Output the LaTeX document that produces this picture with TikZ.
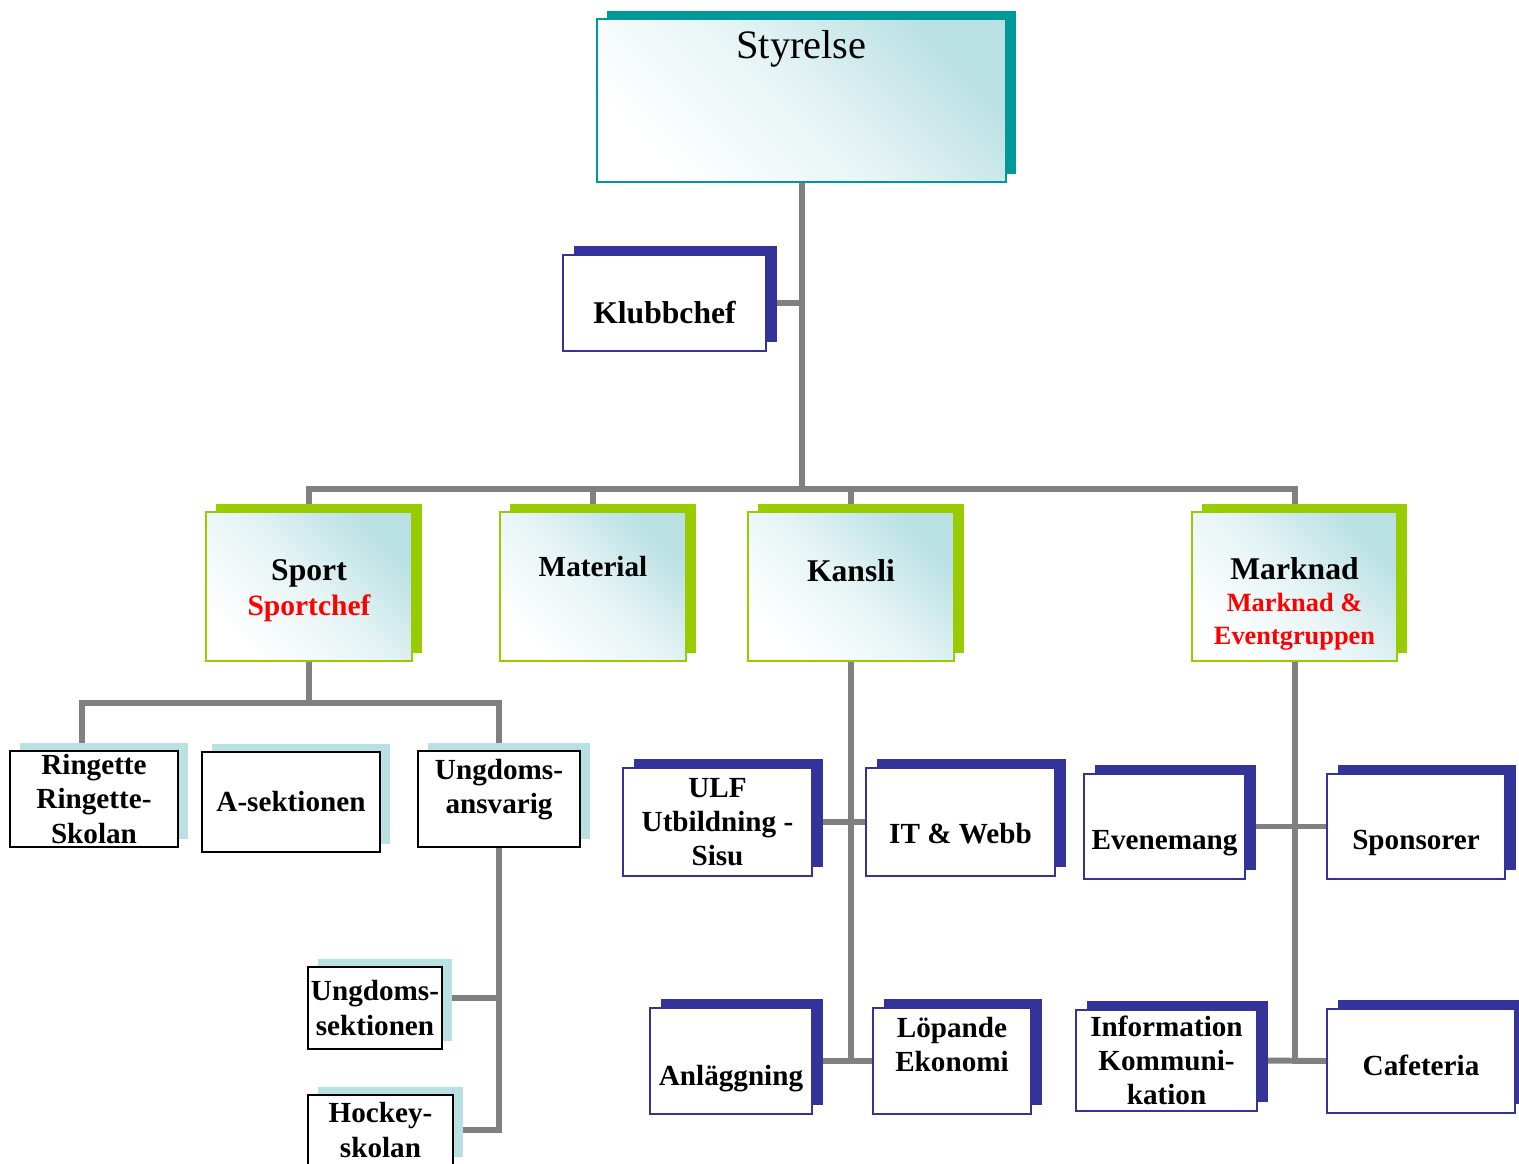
\documentclass[tikz,border=0pt]{standalone}
\usepackage{fontspec}
\setmainfont{Liberation Serif}
\usetikzlibrary{shadows,backgrounds}
\definecolor{boardteal}{HTML}{009999}
\definecolor{areagreen}{HTML}{99CC00}
\definecolor{unitblue}{HTML}{333399}
\definecolor{pale}{HTML}{B9E0E3}
\definecolor{lineg}{HTML}{808080}
\newcommand\chfont{\fontsize{8.3}{9.7}\selectfont\bfseries}
\newcommand\hdfont{\fontsize{9}{10}\selectfont\bfseries}
\tikzset{
    card/.style={draw, rectangle, inner sep=0pt, align=center},
    tint/.style={top color=pale, bottom color=white, middle color=pale!35, shading angle=-45},
    board/.style={card, tint, draw=boardteal, line width=0.6pt,
        general shadow={fill=boardteal, shadow xshift=1mm, shadow yshift=0.8mm}},
    area/.style={card, tint, draw=areagreen, line width=0.6pt, font=\hdfont,
        general shadow={fill=areagreen, shadow xshift=1mm, shadow yshift=0.8mm}},
    unit/.style={card, fill=white, draw=unitblue, line width=0.5pt, font=\chfont,
        general shadow={fill=unitblue, shadow xshift=1.1mm, shadow yshift=0.9mm}},
    team/.style={card, fill=white, draw=black, line width=0.7pt, font=\chfont,
        general shadow={fill=pale, shadow xshift=1mm, shadow yshift=0.8mm}},
    lift/.style={text depth=#1},
    sink/.style={text height=#1},
    link/.style={draw=lineg, line width=1.7pt}
}
\begin{document}
\begin{tikzpicture}
\useasboundingbox (0,0) rectangle (15.19,-11.64);
\coordinate (bar) at (0,-4.89);
\coordinate (sbar) at (0,-7.03);

% top
\node[board, lift=1.12cm, minimum width=4.09cm, minimum height=1.63cm,
      font=\fontsize{11.5}{13}\selectfont] (sty) at (8.015,-1.005) {Styrelse};
\node[unit, font=\hdfont, sink=0.42cm, minimum width=2.03cm, minimum height=0.96cm] (klubb) at (6.645,-3.03) {Klubbchef};

% areas
\node[area, sink=0.65cm, minimum width=2.06cm, minimum height=1.49cm] (sport) at (3.09,-5.865)
    {Sport\\\textcolor{red}{\fontsize{8.4}{10}\selectfont Sportchef}};
\node[area, font=\chfont, lift=0.4cm, minimum width=1.86cm, minimum height=1.49cm] (mat) at (5.93,-5.865) {Material};
\node[area, lift=0.32cm, minimum width=2.06cm, minimum height=1.49cm] (kans) at (8.51,-5.865) {Kansli};
\node[area, font=\fontsize{7.5}{9.2}\selectfont\bfseries, sink=1.21cm, minimum width=2.05cm, minimum height=1.49cm] (mark) at (12.945,-5.865)
    {{\hdfont Marknad}\\\textcolor{red}{Marknad \&}\\\textcolor{red}{Eventgruppen}};

% sport
\node[team, minimum width=1.68cm, minimum height=0.96cm] (ring) at (0.94,-7.99) {Ringette\\Ringette-\\Skolan};
\node[team, minimum width=1.78cm, minimum height=1.0cm] (asek) at (2.91,-8.02) {A-sektionen};
\node[team, lift=0.25cm, minimum width=1.62cm, minimum height=0.96cm] (ungans) at (4.99,-7.99) {Ungdoms-\\ansvarig};
\node[team, minimum width=1.34cm, minimum height=0.82cm] (ungsek) at (3.75,-10.08) {Ungdoms-\\sektionen};
\node[team, minimum width=1.45cm, minimum height=0.70cm] (hockey) at (3.805,-11.30) {Hockey-\\skolan};

% kansli
\node[unit, minimum width=1.89cm, minimum height=1.08cm] (ulf) at (7.175,-8.22) {ULF\\Utbildning -\\Sisu};
\node[unit, sink=0.44cm, minimum width=1.89cm, minimum height=1.08cm] (it) at (9.605,-8.22) {IT \& Webb};
\node[unit, sink=0.56cm, minimum width=1.62cm, minimum height=1.06cm] (anl) at (7.31,-10.61) {Anläggning};
\node[unit, lift=0.34cm, minimum width=1.58cm, minimum height=1.06cm] (loep) at (9.52,-10.61) {Löpande\\Ekonomi};

% marknad
\node[unit, sink=0.52cm, minimum width=1.61cm, minimum height=1.05cm] (even) at (11.645,-8.265) {Evenemang};
\node[unit, sink=0.52cm, minimum width=1.78cm, minimum height=1.05cm] (spons) at (14.16,-8.265) {Sponsorer};
\node[unit, minimum width=1.81cm, minimum height=1.01cm] (info) at (11.665,-10.605) {Information\\Kommuni-\\kation};
\node[unit, sink=0.3cm, minimum width=1.88cm, minimum height=1.04cm] (caf) at (14.21,-10.61) {Cafeteria};

% lines
\begin{pgfonlayer}{background}
\draw[link] (sty.south) -- (sty.south |- bar);
\draw[link] (klubb.east) -- (klubb.east -| sty.south);
\draw[link] (sport.north) |- (mark.north |- bar) -- (mark.north);
\draw[link] (mat.north) -- (mat.north |- bar);
\draw[link] (kans.north) -- (kans.north |- bar);
\draw[link] (sport.south) -- (sport.south |- sbar);
\draw[link] ([xshift=-1.2mm]ring.north) |- (ungans.north |- sbar) -- (ungans.north);
\draw[link] (ungans.south) |- (hockey.east);
\draw[link] ([yshift=1mm]ungsek.east) -- ([yshift=1mm]ungsek.east -| ungans.south);
\draw[link] (kans.south) -- (kans.south |- anl.east);
\draw[link] (ulf.east) -- (it.west);
\draw[link] (anl.east) -- (loep.west);
\draw[link] (mark.south) -- (mark.south |- info.east);
\draw[link] (even.east) -- (spons.west);
\draw[link] (info.east) -- (caf.west);
\end{pgfonlayer}
\end{tikzpicture}
\end{document}
